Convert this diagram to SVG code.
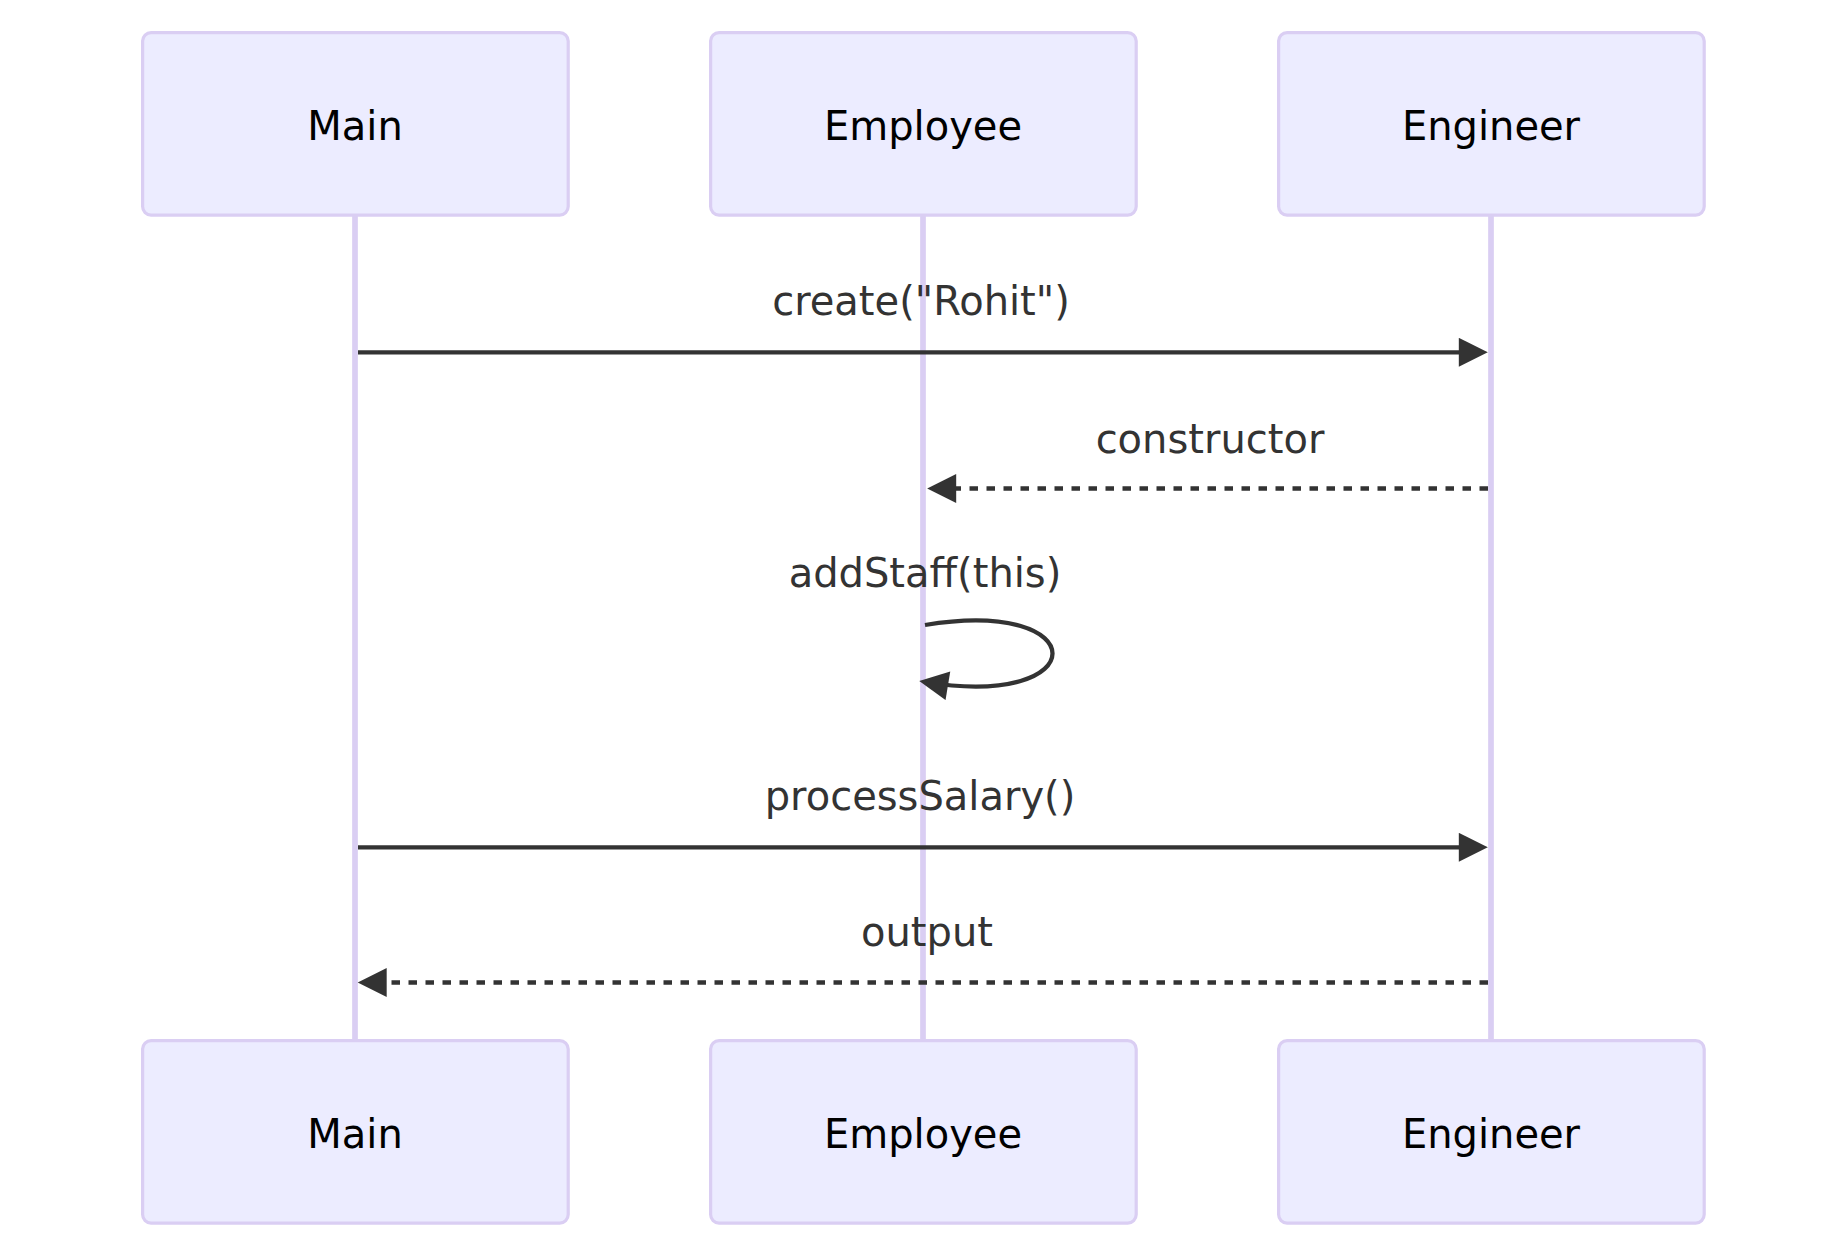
<svg xmlns="http://www.w3.org/2000/svg" width="1846" height="1259" viewBox="0 0 1846 1259">
<style>
.actor{fill:#ECECFF;stroke:#DACEF3;stroke-width:3.2}
.actor-text{font-family:"DejaVu Sans",Verdana,sans-serif;font-size:40px;fill:#000;text-anchor:middle}
.lifeline{stroke:#DACEF3;stroke-width:5.7}
.msg{stroke:#333;stroke-width:4.3;fill:none}
.dashed{stroke-dasharray:8.5 8.5}
.msg-text{font-family:"DejaVu Sans",Verdana,sans-serif;font-size:40px;fill:#333;text-anchor:middle}
</style>
<defs>
<marker id="arrowhead" viewBox="0 0 10 10" refX="8" refY="5" markerUnits="userSpaceOnUse" markerWidth="30" markerHeight="29" orient="auto">
<path d="M0,0 L10,5 L0,10 z" fill="#333"/>
</marker>
</defs>
<rect width="1846" height="1259" fill="#fff"/>
<g id="lifelines">
<line class="lifeline" x1="355" y1="216" x2="355" y2="1040"/>
<line class="lifeline" x1="923" y1="216" x2="923" y2="1040"/>
<line class="lifeline" x1="1491" y1="216" x2="1491" y2="1040"/>
</g>
<g id="actor-main-top"><rect class="actor" x="142.6" y="32.6" width="425.6" height="182.5" rx="8.5"/><text class="actor-text" x="355" y="140">Main</text></g>
<g id="actor-employee-top"><rect class="actor" x="710.6" y="32.6" width="425.6" height="182.5" rx="8.5"/><text class="actor-text" x="923" y="140">Employee</text></g>
<g id="actor-engineer-top"><rect class="actor" x="1278.6" y="32.6" width="425.6" height="182.5" rx="8.5"/><text class="actor-text" x="1491" y="140">Engineer</text></g>
<g id="actor-main-bottom"><rect class="actor" x="142.6" y="1040.6" width="425.6" height="182.5" rx="8.5"/><text class="actor-text" x="355" y="1148">Main</text></g>
<g id="actor-employee-bottom"><rect class="actor" x="710.6" y="1040.6" width="425.6" height="182.5" rx="8.5"/><text class="actor-text" x="923" y="1148">Employee</text></g>
<g id="actor-engineer-bottom"><rect class="actor" x="1278.6" y="1040.6" width="425.6" height="182.5" rx="8.5"/><text class="actor-text" x="1491" y="1148">Engineer</text></g>
<g id="connectors">
<line class="msg" x1="358" y1="352.3" x2="1482" y2="352.3" marker-end="url(#arrowhead)"/>
<line class="msg dashed" x1="1488" y1="488.5" x2="933" y2="488.5" marker-end="url(#arrowhead)"/>
<path class="msg" d="M925,625 C1095,597 1095,710 925,682" marker-end="url(#arrowhead)"/>
<line class="msg" x1="358" y1="847.3" x2="1482" y2="847.3" marker-end="url(#arrowhead)"/>
<line class="msg dashed" x1="1488" y1="982.5" x2="363.5" y2="982.5" marker-end="url(#arrowhead)"/>
</g>
<g id="labels">
<text class="msg-text" x="921" y="315">create("Rohit")</text>
<text class="msg-text" x="1210" y="452.5">constructor</text>
<text class="msg-text" x="925" y="586.5">addStaff(this)</text>
<text class="msg-text" x="920" y="810">processSalary()</text>
<text class="msg-text" x="927" y="945.5">output</text>
</g>
</svg>
